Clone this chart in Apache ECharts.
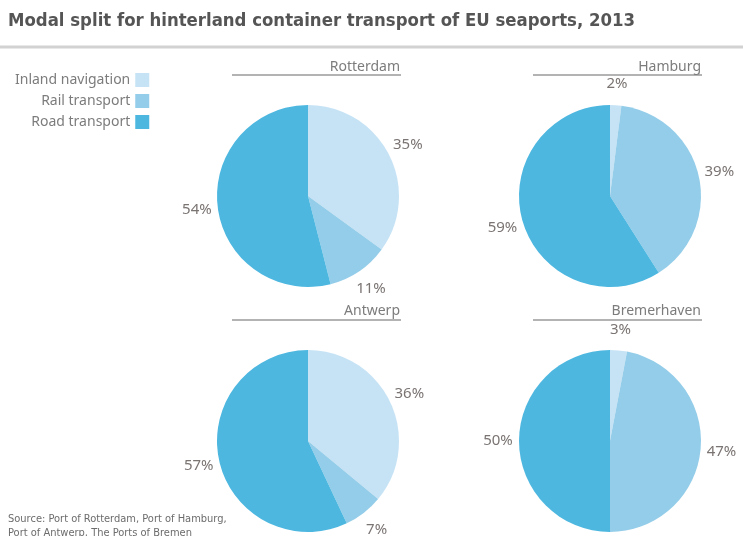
<!DOCTYPE html>
<html>
<head>
<meta charset="utf-8">
<script src="https://cdn.jsdelivr.net/npm/echarts@6/dist/echarts.min.js"></script>
<style>
  html, body { margin: 0; padding: 0; background: #ffffff; }
  #chart { width: 743px; height: 536px; }
</style>
</head>
<body>
<div id="chart"></div>
<script>
// Transport modes (legend order) and ports
const modes = ['Inland navigation', 'Rail transport', 'Road transport'];
const ports = ['Rotterdam', 'Hamburg', 'Antwerp', 'Bremerhaven'];

// Modal split per port, in percent (inland, rail, road)
const rotterdam = [35, 11, 54];
const hamburg = [2, 39, 59];
const antwerp = [36, 7, 57];
const bremerhaven = [3, 47, 50];
const shares = [rotterdam, hamburg, antwerp, bremerhaven];

const modeColors = ['#c6e3f5', '#94cde9', '#4db7e0'];
const pieCenters = [[308, 196], [610, 196], [308, 441], [610, 441]];
const pieRadius = 91;
const labelDistance = 112; // from pie centre to the middle of a percentage label
const labelFont = 'Noto Sans';
const textGray = '#7a7472';

const chart = echarts.init(document.getElementById('chart'), null, { renderer: 'canvas' });

// Mid angle of a slice (radians, clockwise from 12 o'clock), derived from the shares
function midAngle(vals, k) {
  const total = vals.reduce((a, b) => a + b, 0);
  let before = 0;
  for (let j = 0; j < k; j++) before += vals[j];
  return ((before + vals[k] / 2) / total) * Math.PI * 2;
}

// Per-port headings, right-aligned above a rule
const portTitles = ports.map((name, i) => ({
  text: name,
  right: i % 2 === 0 ? 743 - 400 : 743 - 701,
  top: i < 2 ? 60 : 304,
  padding: 0,
  textStyle: { fontFamily: labelFont, fontSize: 14, fontWeight: 'normal', color: '#7c7c7c' }
}));

const rules = [[232, 401, 75], [533, 702, 75], [232, 401, 320], [533, 702, 320]].map(r => ({
  type: 'line',
  shape: { x1: r[0], y1: r[2], x2: r[1], y2: r[2] },
  style: { stroke: '#9a9a9a', lineWidth: 1.6 }
}));

const series = shares.map((vals, i) => ({
  type: 'pie',
  name: ports[i],
  center: pieCenters[i],
  radius: [0, pieRadius],
  startAngle: 90,
  clockwise: true,
  avoidLabelOverlap: false,
  animation: false,
  silent: true,
  itemStyle: { borderWidth: 0 },
  label: {
    show: true,
    position: 'outside',
    formatter: '{c}%',
    fontFamily: labelFont,
    fontSize: 15,
    color: textGray
  },
  labelLine: { show: false, length: 8, length2: 0 },
  // centre each percentage on its slice's mid angle, just outside the rim
  labelLayout: function (p) {
    const a = midAngle(vals, p.dataIndex);
    return {
      x: pieCenters[i][0] + labelDistance * Math.sin(a),
      y: pieCenters[i][1] - labelDistance * Math.cos(a),
      align: 'center',
      verticalAlign: 'middle'
    };
  },
  data: modes.map((m, k) => ({ name: m, value: vals[k], itemStyle: { color: modeColors[k] } }))
}));

chart.setOption({
  backgroundColor: '#ffffff',
  color: modeColors,
  title: [
    {
      text: 'Modal split for hinterland container transport of EU seaports, 2013',
      left: 8,
      top: 12,
      padding: 0,
      textStyle: { fontFamily: 'DejaVu Sans Condensed', fontSize: 18.4, fontWeight: 'bold', color: '#555555' }
    },
    {
      text: 'Source: Port of Rotterdam, Port of Hamburg,\nPort of Antwerp, The Ports of Bremen',
      left: 8,
      top: 512,
      padding: 0,
      textStyle: { fontFamily: 'DejaVu Sans Condensed', fontSize: 11, fontWeight: 'normal', color: '#6c6c6c', lineHeight: 14 }
    }
  ].concat(portTitles),
  legend: {
    orient: 'vertical',
    align: 'right',
    left: 15,
    top: 73,
    padding: 0,
    itemWidth: 14,
    itemHeight: 14,
    itemGap: 7,
    icon: 'rect',
    selectedMode: false,
    data: modes,
    textStyle: { fontFamily: labelFont, fontSize: 14, color: '#7c7c7c' }
  },
  graphic: [
    {
      type: 'line',
      shape: { x1: 0, y1: 47, x2: 743, y2: 47 },
      style: { stroke: '#d2d2d2', lineWidth: 3 }
    }
  ].concat(rules),
  series: series
});
</script>
</body>
</html>
